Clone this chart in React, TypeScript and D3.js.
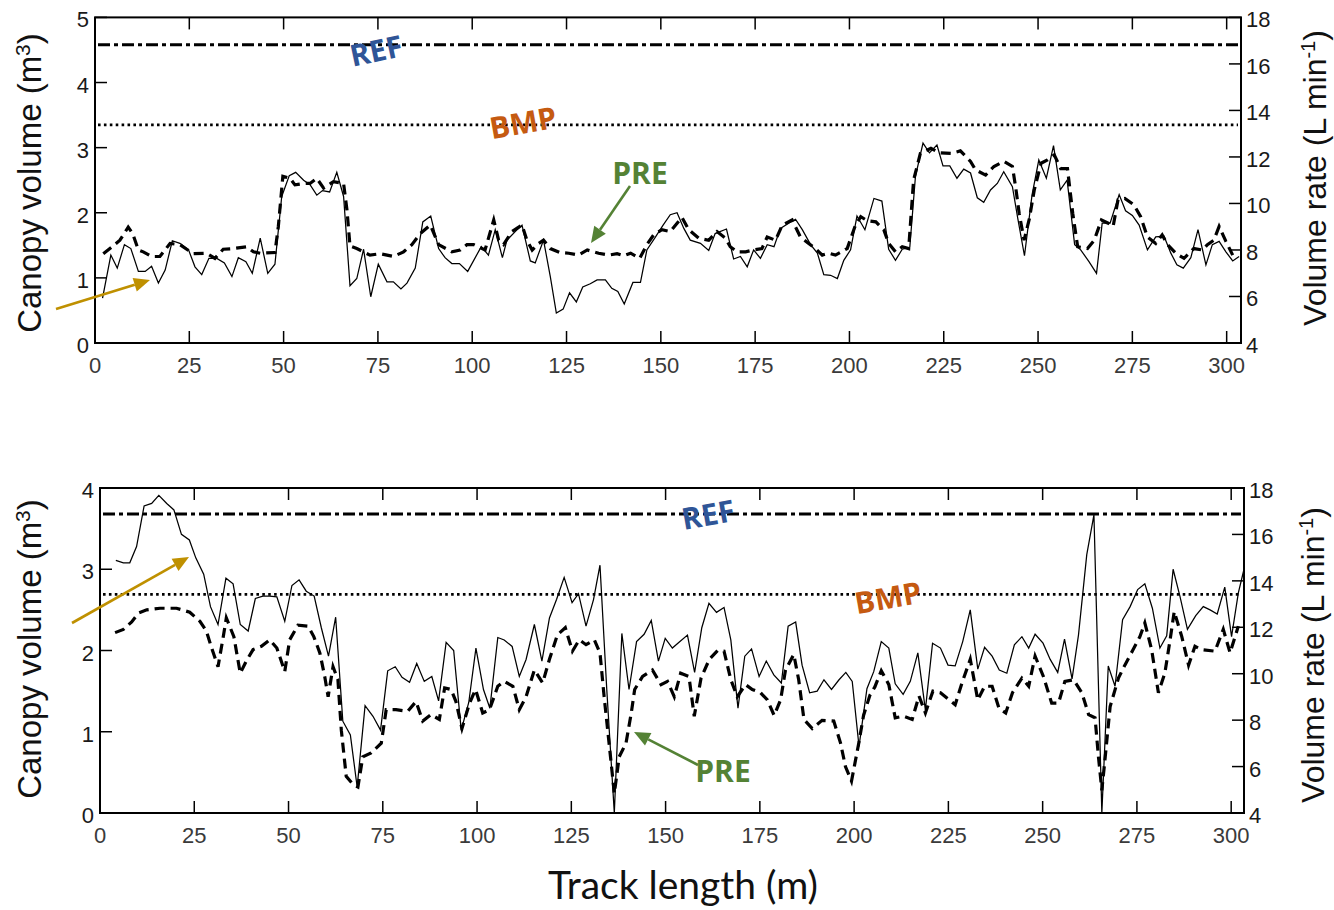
import React from 'react';
import * as d3 from 'd3';

// ---------- DATA ----------
const xTickValues = [0, 25, 50, 75, 100, 125, 150, 175, 200, 225, 250, 275, 300];
const leftTicksTop = [0, 1, 2, 3, 4, 5];
const leftTicksBottom = [0, 1, 2, 3, 4];
const rightTicks = [4, 6, 8, 10, 12, 14, 16, 18];

// Top panel: canopy volume (m3), solid line  [track length m, volume]
const topCanopy: [number, number][] = [
  [2.0,0.69],[4.2,1.35],[5.9,1.15],[7.8,1.51],[9.5,1.45],[11.5,1.10],[13.3,1.10],[15.0,1.18],[16.8,0.92],[18.6,1.12],
  [20.5,1.57],[22.5,1.53],[24.8,1.43],[26.5,1.17],[28.3,1.05],[30.2,1.30],[32.3,1.30],[34.3,1.23],[36.3,1.02],[38.0,1.31],
  [40.0,1.25],[41.7,1.07],[43.8,1.61],[45.8,1.07],[47.7,1.21],[49.5,2.25],[51.5,2.57],[53.2,2.62],[55.3,2.50],[57.0,2.43],
  [58.8,2.27],[60.3,2.34],[62.2,2.32],[64.1,2.62],[65.9,2.25],[67.6,0.88],[69.4,0.99],[71.2,1.44],[73.1,0.71],[75.1,1.21],
  [77.4,0.94],[79.1,0.94],[81.1,0.83],[82.7,0.92],[84.9,1.15],[86.9,1.86],[89.0,1.95],[91.1,1.45],[92.8,1.31],[94.6,1.22],
  [96.6,1.22],[98.8,1.10],[102.4,1.48],[104.3,1.35],[106.1,1.74],[108.0,1.31],[109.2,1.58],[111.4,1.71],[113.2,1.81],[115.4,1.26],
  [116.7,1.23],[118.9,1.58],[120.7,1.02],[122.3,0.46],[124.1,0.52],[125.8,0.77],[127.6,0.63],[129.3,0.86],[131.3,0.91],[133.1,0.97],
  [135.3,0.97],[137.0,0.84],[138.6,0.79],[140.3,0.60],[142.6,0.93],[144.6,0.93],[146.3,1.43],[148.6,1.63],[150.6,1.81],[152.5,1.97],
  [154.3,2.00],[156.1,1.76],[157.8,1.58],[160.5,1.53],[162.7,1.42],[164.4,1.68],[167.4,1.75],[169.3,1.29],[171.1,1.33],[172.9,1.17],
  [174.6,1.43],[176.4,1.30],[178.2,1.51],[180.0,1.48],[181.7,1.76],[183.9,1.84],[185.7,1.90],[187.5,1.74],[189.7,1.51],[191.5,1.38],
  [193.2,1.05],[195.0,1.04],[196.8,0.99],[198.5,1.27],[200.3,1.43],[202.0,1.95],[203.0,1.85],[204.1,1.74],[206.5,2.22],[208.6,2.18],
  [210.4,1.44],[212.2,1.27],[214.0,1.44],[216.0,1.47],[217.5,2.56],[219.5,3.07],[221.2,2.92],[223.2,3.04],[224.8,2.72],[226.6,2.72],
  [228.5,2.53],[230.3,2.67],[232.1,2.61],[233.9,2.23],[235.6,2.16],[237.4,2.35],[239.2,2.45],[240.9,2.63],[243.2,2.40],[244.6,1.92],
  [246.4,1.34],[248.4,2.27],[250.2,2.81],[252.2,2.53],[254.1,3.03],[255.9,2.35],[257.7,2.50],[259.7,1.51],[261.3,1.43],[263.5,1.25],
  [265.5,1.07],[267.0,1.84],[269.1,1.84],[271.5,2.28],[273.2,2.03],[275.0,1.96],[276.8,1.81],[279.0,1.43],[281.2,1.63],[283.4,1.64],
  [285.2,1.38],[286.8,1.20],[288.5,1.15],[290.5,1.31],[292.4,1.74],[294.5,1.20],[296.2,1.51],[298.0,1.56],[299.8,1.40],[301.6,1.26],
  [303.3,1.33],
];

// Top panel: volume rate (L min-1), dashed line
const topRate: [number, number][] = [
  [2.2,7.84],[4.4,8.12],[6.6,8.42],[8.8,8.98],[10.0,8.70],[11.5,8.00],[12.8,7.92],[15.0,7.72],[17.2,7.72],[19.9,8.28],
  [22.5,8.23],[24.3,8.03],[26.1,7.84],[29.6,7.86],[31.8,7.64],[34.0,8.03],[36.7,8.06],[40.2,8.14],[42.0,7.92],[43.8,7.86],
  [47.7,7.89],[48.6,9.01],[49.8,11.17],[51.7,11.08],[53.0,10.80],[55.3,10.86],[57.0,10.86],[58.8,11.08],[60.6,10.66],[63.2,10.94],
  [65.9,10.86],[66.8,9.71],[67.6,8.17],[69.4,8.06],[72.9,7.78],[75.6,7.84],[79.1,7.72],[81.8,7.92],[84.0,8.23],[86.2,8.70],
  [88.9,9.07],[91.1,8.23],[94.6,7.92],[96.8,8.00],[98.6,8.23],[100.4,8.23],[103.4,8.00],[105.7,9.29],[107.0,8.42],[108.3,8.23],
  [110.5,8.79],[113.2,9.07],[114.5,8.42],[115.9,8.00],[117.6,8.28],[118.9,8.42],[120.7,8.06],[123.3,7.89],[125.6,7.86],[128.2,7.78],
  [130.5,8.00],[133.5,7.86],[136.2,7.78],[138.4,7.84],[140.2,7.75],[142.0,7.86],[144.4,7.64],[146.3,8.23],[148.1,8.65],[150.3,8.87],
  [152.5,8.79],[155.6,9.40],[157.4,8.87],[160.0,8.51],[162.7,8.42],[164.9,8.79],[167.1,8.51],[168.4,8.14],[170.2,7.92],[172.5,7.92],
  [174.6,8.00],[176.8,8.06],[178.2,8.56],[180.4,8.42],[182.2,9.07],[184.8,9.29],[187.0,8.56],[189.2,8.28],[191.0,8.06],[192.8,7.78],
  [194.5,7.86],[196.3,7.78],[199.4,8.06],[201.6,9.07],[203.0,9.43],[204.7,9.26],[207.0,9.21],[209.1,8.87],[210.4,8.28],[212.2,7.92],
  [214.0,8.14],[215.7,8.06],[217.0,11.00],[218.8,12.15],[221.6,12.37],[223.8,12.18],[226.9,12.15],[229.4,12.26],[232.1,11.81],[233.4,11.45],
  [236.1,11.22],[238.3,11.59],[240.9,11.81],[243.2,11.59],[244.1,10.66],[245.0,9.57],[246.3,8.42],[247.7,9.35],[249.0,10.58],[250.8,11.73],
  [252.5,11.87],[254.3,12.09],[256.0,11.50],[257.8,11.50],[259.2,9.57],[260.5,8.14],[263.1,8.06],[264.9,8.42],[266.8,9.29],[268.6,9.15],
  [269.9,9.01],[271.2,10.16],[273.0,10.22],[275.4,9.94],[277.2,9.43],[279.0,8.56],[281.2,8.28],[282.9,8.65],[284.3,8.23],[286.5,7.86],
  [288.7,7.64],[291.3,8.06],[293.6,8.00],[294.9,8.23],[296.6,8.42],[298.0,9.01],[299.8,8.37],[301.6,7.78],
];

// Bottom panel: canopy volume (m3), solid line
const bottomCanopy: [number, number][] = [
  [4.2,3.11],[6.2,3.08],[7.9,3.08],[9.7,3.28],[11.7,3.78],[13.7,3.81],[15.6,3.91],[17.7,3.81],[19.6,3.73],[21.6,3.43],
  [23.7,3.36],[25.4,3.14],[27.5,2.94],[29.3,2.54],[31.3,2.32],[33.4,2.89],[35.3,2.82],[37.2,2.32],[39.3,2.24],[41.2,2.64],
  [43.2,2.67],[45.0,2.67],[46.9,2.66],[49.0,2.36],[50.9,2.80],[52.8,2.87],[54.7,2.73],[56.8,2.67],[58.7,2.28],[60.6,1.93],
  [62.5,2.41],[64.4,1.13],[66.4,0.96],[68.2,0.32],[70.3,1.32],[72.4,1.19],[74.4,1.02],[76.3,1.75],[78.3,1.80],[80.1,1.67],
  [82.1,1.61],[84.0,1.84],[86.0,1.62],[88.0,1.68],[89.8,1.38],[91.8,2.10],[93.8,2.00],[95.8,1.02],[97.8,1.36],[99.7,2.03],
  [101.7,1.52],[103.4,1.29],[105.5,2.16],[107.2,2.13],[109.3,2.05],[111.2,1.68],[113.0,1.89],[115.2,2.32],[117.2,1.87],[119.2,2.40],
  [121.1,2.63],[123.1,2.90],[125.2,2.59],[126.9,2.70],[128.9,2.30],[130.9,2.63],[132.6,3.05],[134.4,1.52],[136.4,0.0],[138.4,2.21],
  [140.3,1.52],[142.3,2.11],[144.3,2.20],[146.2,2.37],[148.1,1.87],[149.9,2.15],[151.8,2.03],[153.8,2.11],[155.8,2.19],[157.7,1.73],
  [159.6,2.28],[161.5,2.58],[163.5,2.47],[165.5,2.53],[167.3,2.13],[169.2,1.29],[171.0,1.93],[172.8,2.02],[174.8,1.68],[176.7,1.87],
  [178.7,1.70],[180.7,1.60],[182.5,2.30],[184.5,2.35],[186.2,1.82],[188.2,1.48],[190.2,1.50],[192.0,1.64],[194.0,1.52],[196.0,1.64],
  [197.8,1.73],[199.5,1.62],[201.3,0.82],[203.4,1.53],[205.2,1.74],[207.2,2.11],[209.2,2.03],[210.9,1.59],[213.0,1.46],[214.9,1.62],
  [216.9,1.97],[218.9,1.27],[220.8,2.09],[222.9,2.03],[224.9,1.82],[226.8,1.81],[228.8,2.11],[230.8,2.50],[232.8,1.77],[234.6,2.04],
  [236.6,1.93],[238.5,1.76],[240.5,1.72],[242.5,2.07],[244.5,2.17],[246.3,2.03],[248.0,2.20],[250.1,2.09],[252.0,1.89],[254.0,1.73],
  [255.8,2.14],[257.8,1.65],[259.5,2.19],[261.7,3.18],[263.6,3.67],[265.7,0.0],[267.4,1.81],[269.2,1.56],[271.2,2.38],[273.2,2.54],
  [275.2,2.75],[277.1,2.82],[279.1,2.52],[281.1,2.03],[282.9,2.18],[284.6,3.00],[286.4,2.67],[288.4,2.26],[290.6,2.43],[292.6,2.54],
  [294.4,2.50],[296.3,2.45],[298.3,2.78],[300.1,2.17],[301.9,2.71],[303.4,3.00],
];

// Bottom panel: volume rate (L min-1), dashed line
const bottomRate: [number, number][] = [
  [4.0,11.77],[6.2,11.91],[8.4,12.23],[10.2,12.61],[12.4,12.75],[15.9,12.82],[20.3,12.82],[23.8,12.65],[26.5,12.26],[28.2,11.84],
  [29.6,11.11],[31.3,10.30],[32.7,11.60],[33.5,12.40],[35.5,11.60],[37.2,10.02],[38.8,10.55],[40.6,11.04],[42.8,11.18],[45.0,11.46],
  [46.9,11.11],[49.0,10.09],[50.3,11.46],[52.5,12.09],[55.2,12.05],[56.7,11.60],[58.3,10.90],[59.6,9.88],[60.5,9.01],[61.8,10.30],
  [63.1,9.74],[64.0,7.57],[65.3,5.58],[67.1,5.23],[68.4,5.12],[69.7,6.42],[71.9,6.59],[74.6,7.01],[75.9,8.45],[78.5,8.45],
  [81.6,8.38],[83.8,8.80],[85.6,7.96],[87.8,8.24],[90.0,8.03],[91.4,9.39],[93.1,9.32],[94.4,8.80],[96.0,7.64],[98.0,8.73],
  [99.6,9.32],[101.5,8.31],[103.3,8.45],[105.5,9.46],[107.2,9.67],[109.5,9.46],[111.2,8.45],[113.0,9.01],[115.2,10.16],[117.4,9.60],
  [119.2,10.62],[121.3,11.67],[123.4,11.98],[125.3,10.97],[127.1,11.46],[128.9,11.25],[131.1,11.46],[132.6,10.90],[133.7,9.01],[135.1,6.87],
  [136.4,4.84],[137.7,6.42],[139.5,7.01],[140.9,8.31],[141.8,9.32],[143.9,9.88],[146.5,10.16],[148.8,9.53],[150.5,9.67],[152.3,9.01],
  [154.0,10.02],[156.2,9.88],[157.6,8.17],[159.4,9.81],[161.6,10.62],[163.8,11.00],[165.5,10.97],[167.3,9.74],[169.0,9.01],[171.2,9.53],
  [173.0,9.32],[175.2,9.18],[177.0,8.87],[178.8,8.20],[180.5,8.87],[181.8,10.16],[184.0,10.83],[185.3,9.74],[186.7,8.03],[188.9,7.64],
  [191.5,7.99],[194.6,7.96],[196.4,7.01],[197.7,6.00],[199.3,5.37],[201.2,6.98],[202.5,8.20],[204.2,9.08],[205.5,9.43],[207.2,10.13],
  [209.2,9.53],[210.9,8.10],[213.1,8.17],[215.4,8.03],[217.2,9.04],[218.9,8.31],[220.9,9.25],[222.9,9.18],[226.8,8.66],[228.6,9.60],
  [230.8,10.62],[232.8,8.87],[234.6,9.46],[236.6,9.46],[238.4,8.52],[240.2,8.31],[242.0,9.18],[244.5,9.81],[246.3,9.46],[248.0,10.76],
  [250.2,9.88],[252.4,8.73],[254.2,8.73],[255.9,9.67],[258.2,9.74],[260.4,9.18],[262.2,8.24],[263.9,8.10],[264.8,6.42],[265.7,4.98],
  [266.6,6.42],[267.9,8.59],[270.1,9.81],[271.8,10.37],[274.0,11.04],[275.8,11.60],[277.1,12.19],[278.9,11.04],[280.7,9.18],[282.4,10.02],
  [283.8,11.46],[284.9,12.68],[286.9,11.60],[288.7,10.37],[290.4,11.18],[292.1,11.04],[295.7,10.97],[297.9,11.91],[299.7,10.90],[301.9,12.05],
];

// Reference levels (canopy volume units)
const topRefLevel = 4.58;
const topBmpLevel = 3.35;
const bottomRefLevel = 3.68;
const bottomBmpLevel = 2.69;

// ---------- STYLE ----------
const TICK_FONT = '"Liberation Sans", Arial, sans-serif';
const LABEL_FONT = '"Open Sans", "Liberation Sans", sans-serif';
const BLUE = '#2F5597';
const ORANGE = '#C55A11';
const GREEN = '#548235';
const GOLD = '#BF9000';

type Pt = { x: number; y: number };

function Arrow({ from, to, color }: { from: Pt; to: Pt; color: string }) {
  const ang = Math.atan2(to.y - from.y, to.x - from.x);
  const L = 16, W = 7;
  const bx = to.x - L * Math.cos(ang);
  const by = to.y - L * Math.sin(ang);
  const p1 = [bx + W * Math.sin(ang), by - W * Math.cos(ang)];
  const p2 = [bx - W * Math.sin(ang), by + W * Math.cos(ang)];
  return (
    <g>
      <line x1={from.x} y1={from.y} x2={bx} y2={by} stroke={color} strokeWidth={2.6} />
      <polygon points={`${to.x},${to.y} ${p1[0]},${p1[1]} ${p2[0]},${p2[1]}`} fill={color} />
    </g>
  );
}

type PanelProps = {
  id: string;
  left: number; right: number; top: number; bottom: number;
  xMax: number; leftMax: number; leftTicks: number[];
  canopy: [number, number][]; rate: [number, number][];
  refLevel: number; bmpLevel: number;
  refLabel: { x: number; y: number; rot: number };
  bmpLabel: { x: number; y: number; rot: number };
  preLabel: { x: number; y: number };
  preArrow: { from: Pt; to: Pt };
  goldArrow: { from: Pt; to: Pt };
  leftTitle: { x: number; y: number };
  rightTitle: { x: number; y: number };
};

function Panel(p: PanelProps) {
  const x = d3.scaleLinear().domain([0, p.xMax]).range([p.left, p.right]);
  const yL = d3.scaleLinear().domain([0, p.leftMax]).range([p.bottom, p.top]);
  const yR = d3.scaleLinear().domain([4, 18]).range([p.bottom, p.top]);
  const lineL = d3.line<[number, number]>().x(d => x(d[0])).y(d => yL(d[1]));
  const lineR = d3.line<[number, number]>().x(d => x(d[0])).y(d => yR(d[1]));
  const tk = 12;
  const fs = 22;
  return (
    <g>
      <defs>
        <clipPath id={`clip-${p.id}`}>
          <rect x={p.left} y={p.top} width={p.right - p.left} height={p.bottom - p.top} />
        </clipPath>
      </defs>
      <g clipPath={`url(#clip-${p.id})`}>
        <line x1={p.left + 3} x2={p.right - 3} y1={yL(p.refLevel)} y2={yL(p.refLevel)}
          stroke="#000" strokeWidth={3} strokeDasharray="12,4,4,4" />
        <line x1={p.left + 3} x2={p.right - 3} y1={yL(p.bmpLevel)} y2={yL(p.bmpLevel)}
          stroke="#000" strokeWidth={2.7} strokeDasharray="2.6,3.3" />
        <path d={lineR(p.rate) || ''} fill="none" stroke="#000" strokeWidth={3.2} strokeDasharray="10,6" />
        <path d={lineL(p.canopy) || ''} fill="none" stroke="#000" strokeWidth={1.25} strokeLinejoin="miter" />
      </g>
      {/* frame */}
      <rect x={p.left} y={p.top} width={p.right - p.left} height={p.bottom - p.top}
        fill="none" stroke="#000" strokeWidth={2} />
      {/* x ticks */}
      {xTickValues.filter(v => v > 0).map(v => (
        <g key={`xt${v}`}>
          <line x1={x(v)} x2={x(v)} y1={p.bottom} y2={p.bottom - tk} stroke="#000" strokeWidth={1.5} />
          <line x1={x(v)} x2={x(v)} y1={p.top} y2={p.top + tk} stroke="#000" strokeWidth={1.5} />
        </g>
      ))}
      {xTickValues.map(v => (
        <text key={`xl${v}`} x={x(v)} y={p.bottom + 30} textAnchor="middle"
          fontFamily={TICK_FONT} fontSize={fs} fill="#3a3a3a">{v}</text>
      ))}
      {/* left ticks */}
      {p.leftTicks.map(v => (
        <g key={`yl${v}`}>
          <line x1={p.left} x2={p.left + tk} y1={yL(v)} y2={yL(v)} stroke="#000" strokeWidth={1.5} />
          <text x={p.left - 6} y={yL(v) + 10} textAnchor="end"
            fontFamily={TICK_FONT} fontSize={fs} fill="#1a1a1a">{v}</text>
        </g>
      ))}
      {/* right ticks */}
      {rightTicks.map(v => (
        <g key={`yr${v}`}>
          <line x1={p.right} x2={p.right - tk} y1={yR(v)} y2={yR(v)} stroke="#000" strokeWidth={1.5} />
          <text x={p.right + 5} y={yR(v) + 10} textAnchor="start"
            fontFamily={TICK_FONT} fontSize={fs} fill="#1a1a1a">{v}</text>
        </g>
      ))}
      {/* axis titles */}
      <text transform={`translate(${p.leftTitle.x},${p.leftTitle.y}) rotate(-90)`} textAnchor="middle"
        fontFamily={TICK_FONT} fontSize={33} fill="#111">
        Canopy volume (m<tspan baselineShift="super" fontSize={21}>3</tspan>)
      </text>
      <text transform={`translate(${p.rightTitle.x},${p.rightTitle.y}) rotate(-90)`} textAnchor="middle"
        fontFamily={TICK_FONT} fontSize={32} fill="#111">
        Volume rate (L min<tspan baselineShift="super" fontSize={20}>-1</tspan>)
      </text>
      {/* annotations */}
      <text transform={`translate(${p.refLabel.x},${p.refLabel.y}) rotate(${p.refLabel.rot})`}
        textAnchor="middle" dominantBaseline="central" fontFamily={LABEL_FONT} fontWeight="bold"
        fontSize={30} fill={BLUE}>REF</text>
      <text transform={`translate(${p.bmpLabel.x},${p.bmpLabel.y}) rotate(${p.bmpLabel.rot})`}
        textAnchor="middle" dominantBaseline="central" fontFamily={LABEL_FONT} fontWeight="bold"
        fontSize={30} fill={ORANGE}>BMP</text>
      <text x={p.preLabel.x} y={p.preLabel.y} textAnchor="middle" dominantBaseline="central"
        fontFamily={LABEL_FONT} fontWeight="bold" fontSize={30} fill={GREEN}>PRE</text>
      <Arrow from={p.preArrow.from} to={p.preArrow.to} color={GREEN} />
      <Arrow from={p.goldArrow.from} to={p.goldArrow.to} color={GOLD} />
    </g>
  );
}

export default function App() {
  return (
    <svg width={1334} height={910} style={{ position: 'absolute', left: 0, top: 0, background: '#fff' }}>
      <rect x={0} y={0} width={1334} height={910} fill="#fff" />
      <Panel
        id="top"
        left={95} right={1241} top={17.4} bottom={343}
        xMax={303.8} leftMax={5} leftTicks={leftTicksTop}
        canopy={topCanopy} rate={topRate}
        refLevel={topRefLevel} bmpLevel={topBmpLevel}
        refLabel={{ x: 376, y: 50, rot: -12 }}
        bmpLabel={{ x: 523, y: 122, rot: -10 }}
        preLabel={{ x: 640, y: 172 }}
        preArrow={{ from: { x: 630, y: 186 }, to: { x: 591, y: 243 } }}
        goldArrow={{ from: { x: 56, y: 309 }, to: { x: 150, y: 280 } }}
        leftTitle={{ x: 41, y: 183 }}
        rightTitle={{ x: 1326, y: 178 }}
      />
      <Panel
        id="bottom"
        left={100} right={1244} top={488} bottom={813}
        xMax={303.4} leftMax={4} leftTicks={leftTicksBottom}
        canopy={bottomCanopy} rate={bottomRate}
        refLevel={bottomRefLevel} bmpLevel={bottomBmpLevel}
        refLabel={{ x: 708, y: 514, rot: -10 }}
        bmpLabel={{ x: 888, y: 597, rot: -10 }}
        preLabel={{ x: 723, y: 770 }}
        preArrow={{ from: { x: 698, y: 765 }, to: { x: 634, y: 732 } }}
        goldArrow={{ from: { x: 72, y: 623 }, to: { x: 189, y: 557 } }}
        leftTitle={{ x: 41, y: 649 }}
        rightTitle={{ x: 1324, y: 655 }}
      />
      <text x={683} y={899} textAnchor="middle" fontFamily='Lato, "Open Sans", sans-serif'
        fontSize={39} fill="#111">Track length (m)</text>
    </svg>
  );
}
